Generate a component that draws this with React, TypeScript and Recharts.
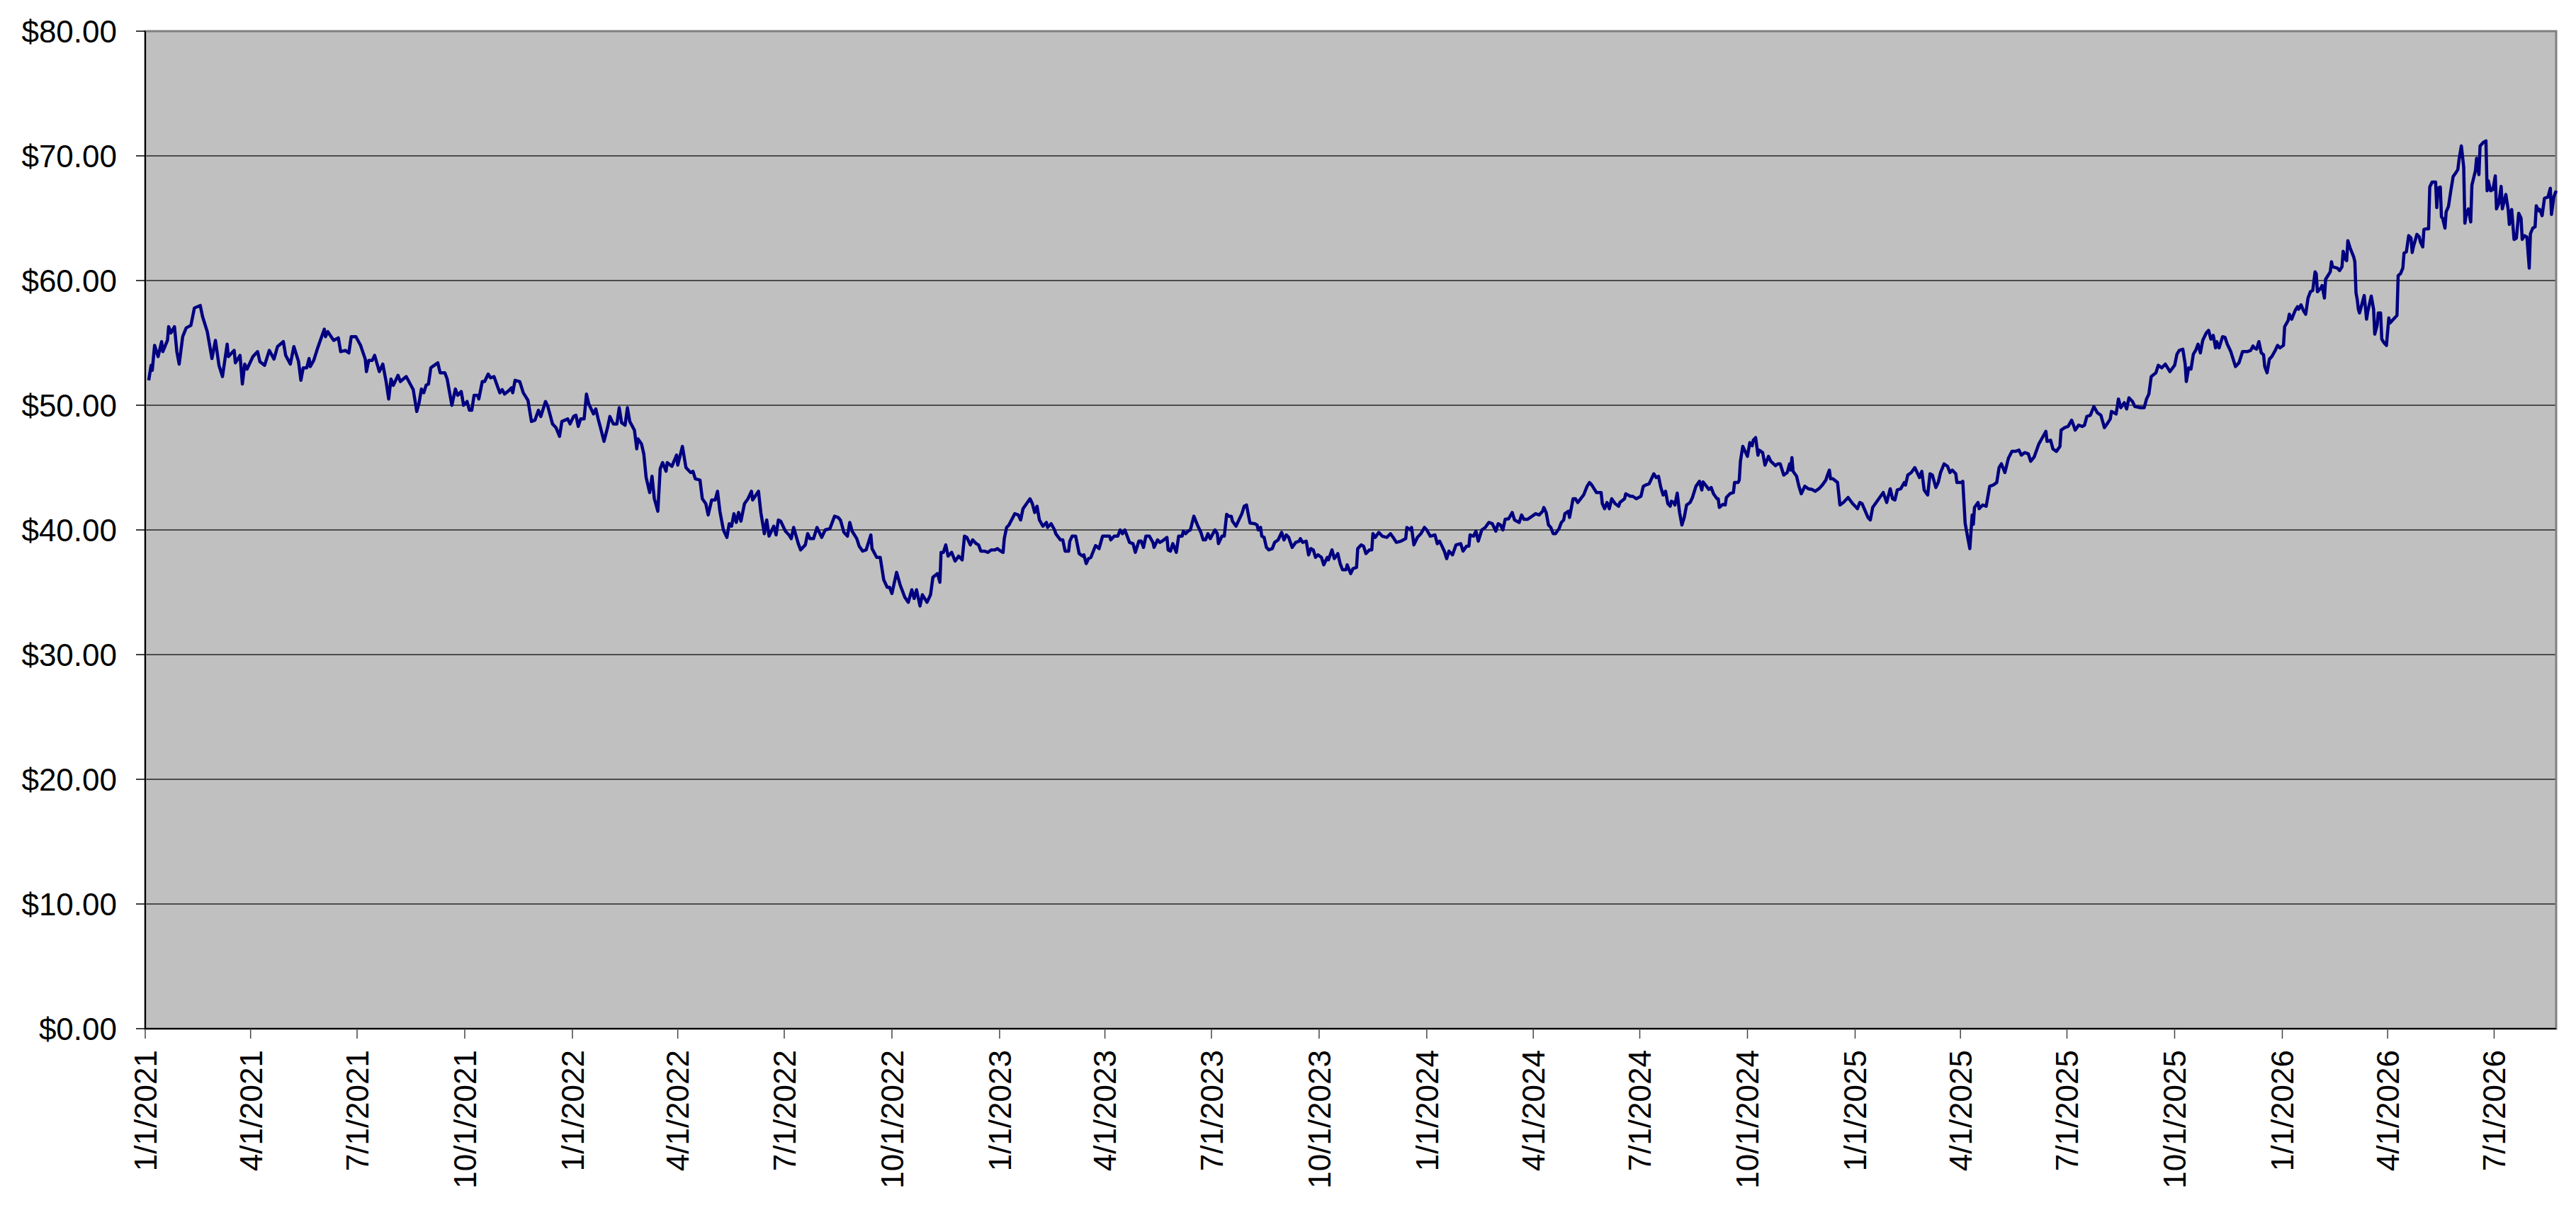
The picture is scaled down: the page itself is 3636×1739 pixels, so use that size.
import React from "react";
import {
  LineChart,
  Line,
  XAxis,
  YAxis,
  CartesianGrid,
  ReferenceArea,
} from "recharts";

// x values are days since 1/1/2021, y values are closing prices in dollars
const SEG_2021: [number, number][] = [
  [3, 52.0], [5, 53.2], [6, 52.8], [8, 54.8], [11, 53.9], [14, 55.1], [15, 54.3], [19, 55.2], [20, 56.3],
  [22, 55.8], [25, 56.3], [27, 54.3], [29, 53.3], [32, 55.5], [35, 56.2], [39, 56.4], [42, 57.8], [47, 58.0],
  [49, 57.1], [53, 55.9], [57, 53.75], [60, 55.2], [63, 53.2], [66, 52.3], [70, 54.9], [71, 53.9], [76, 54.4],
  [77, 53.4], [81, 54.0], [83, 51.7], [85, 53.3], [87, 52.9], [92, 53.9], [96, 54.3], [98, 53.5], [102, 53.2],
  [106, 54.4], [110, 53.7], [113, 54.7], [118, 55.1], [120, 54.0], [124, 53.3], [127, 54.7], [131, 53.5],
  [133, 52.0], [135, 53.0], [138, 53.0], [140, 53.75], [141, 53.1], [144, 53.6], [147, 54.5], [153, 56.1],
  [154, 55.5], [156, 55.9], [161, 55.2], [165, 55.4], [167, 54.3], [171, 54.4], [174, 54.2], [176, 55.5],
  [180, 55.5], [184, 54.8], [188, 53.7], [189, 52.7], [191, 53.6], [194, 53.6], [196, 54.0], [200, 52.7],
  [203, 53.3], [206, 51.8], [208, 50.5], [210, 52.1], [212, 51.6], [216, 52.4], [218, 51.9], [223, 52.3],
  [229, 51.25], [232, 49.5], [234, 50.2], [236, 51.3], [238, 51.0], [240, 51.6], [242, 51.7], [244, 53.0],
  [250, 53.4], [252, 52.6], [256, 52.6], [258, 52.1], [262, 50.0], [265, 51.3], [267, 50.8], [270, 51.1],
  [272, 50.0], [275, 50.3], [277, 49.6], [279, 49.6], [281, 50.8], [284, 50.8], [285, 50.5], [288, 51.9],
  [290, 51.9], [293, 52.5], [295, 52.2], [298, 52.3], [301, 51.5], [303, 51.0], [305, 51.25], [307, 50.9],
  [311, 51.2], [313, 51.4], [314, 51.0], [316, 52.0], [320, 51.9], [323, 51.0], [327, 50.4], [330, 48.7],
  [333, 48.8], [336, 49.6], [338, 49.1], [342, 50.3], [344, 49.9], [348, 48.5], [351, 48.2], [354, 47.5],
  [356, 48.7], [361, 48.9], [363, 48.5], [366, 49.1], [368, 49.2], [370, 48.3],
];

const SEG_2022: [number, number][] = [
  [372, 48.9], [375, 48.9], [377, 50.9], [379, 50.1], [383, 49.3], [385, 49.7], [387, 48.9], [389, 48.2],
  [392, 47.1], [395, 48.2], [397, 49.1], [400, 48.5], [403, 48.5], [405, 49.8], [407, 48.6], [410, 48.4],
  [412, 49.8], [414, 48.7], [418, 48.0], [420, 46.5], [421, 47.3], [424, 46.9], [426, 46.1], [428, 44.2],
  [431, 43.0], [433, 44.3], [435, 42.5], [438, 41.5], [440, 44.9], [442, 45.4], [445, 44.7], [446, 45.4],
  [450, 45.1], [454, 46.0], [455, 45.2], [459, 46.7], [462, 45.0], [466, 44.6], [468, 44.7], [470, 44.1],
  [474, 44.0], [476, 42.5], [479, 42.1], [481, 41.2], [484, 42.4], [487, 42.4], [489, 43.1], [491, 41.5],
  [494, 40.0], [497, 39.4], [499, 40.5], [501, 40.3], [503, 41.3], [505, 40.6], [507, 41.4], [509, 40.7],
  [512, 42.1], [515, 42.5], [518, 43.1], [519, 42.4], [524, 43.1], [526, 41.4], [529, 39.7], [531, 40.8],
  [533, 39.5], [537, 40.3], [539, 39.6], [541, 40.8], [543, 40.7], [547, 39.9], [550, 39.6], [552, 39.3],
  [554, 40.2], [558, 38.9], [560, 38.4], [564, 38.8], [566, 39.7], [568, 39.3], [571, 39.3], [574, 40.2],
  [578, 39.4], [581, 40.0], [585, 40.1], [589, 41.1], [592, 41.0], [594, 40.8], [597, 39.8], [600, 39.5],
  [602, 40.6], [604, 39.9], [608, 39.3], [610, 38.7], [613, 38.3], [616, 38.4], [620, 39.6], [621, 38.5],
  [625, 37.8], [628, 37.8], [631, 36.0], [634, 35.4], [636, 35.4], [638, 34.9], [642, 36.6], [645, 35.6],
  [649, 34.6], [652, 34.2], [655, 35.2], [657, 34.5], [659, 35.2], [662, 33.9], [664, 34.8], [668, 34.2],
  [671, 34.8], [673, 36.2], [677, 36.5], [679, 35.8], [680, 38.2], [682, 38.2], [684, 38.8], [686, 37.9],
  [689, 38.2], [692, 37.5], [695, 37.9], [698, 37.6], [700, 39.5], [702, 39.4], [705, 38.8], [707, 39.2],
  [710, 38.9], [712, 38.8], [714, 38.3], [717, 38.3], [720, 38.2], [723, 38.4], [726, 38.4], [728, 38.5],
];

const SEG_2023: [number, number][] = [
  [731, 38.3], [733, 38.2], [734, 39.3], [736, 40.2], [738, 40.4], [743, 41.3], [746, 41.2], [748, 40.8],
  [750, 41.7], [753, 42.1], [756, 42.5], [758, 42.1], [760, 41.4], [762, 41.9], [764, 40.8], [767, 40.3],
  [770, 40.6], [771, 40.2], [774, 40.5], [777, 40.0], [778, 39.7], [782, 39.2], [784, 39.2], [786, 38.3],
  [789, 38.3], [790, 39.1], [792, 39.5], [795, 39.5], [798, 38.1], [801, 37.9], [802, 38.0], [804, 37.3],
  [806, 37.7], [808, 37.8], [812, 38.75], [815, 38.5], [818, 39.5], [820, 39.5], [824, 39.5], [825, 39.2],
  [828, 39.5], [831, 39.5], [833, 40.0], [835, 39.7], [837, 40.0], [839, 39.5], [841, 39.0], [844, 38.9],
  [846, 38.2], [849, 39.1], [851, 39.1], [853, 38.6], [855, 39.5], [858, 39.5], [861, 39.0], [862, 38.6],
  [865, 39.2], [867, 39.0], [869, 39.1], [873, 39.4], [874, 38.4], [876, 38.3], [878, 38.9], [881, 38.2],
  [883, 39.5], [886, 39.5], [887, 39.9], [889, 39.7], [891, 39.9], [893, 40.0], [896, 41.1], [899, 40.4],
  [902, 39.8], [904, 39.2], [906, 39.2], [908, 39.7], [910, 39.3], [914, 40.0], [916, 39.7], [917, 38.9],
  [920, 39.5], [922, 39.5], [924, 41.25], [926, 41.1], [928, 41.1], [929, 40.7], [932, 40.3], [935, 40.9],
  [937, 41.3], [939, 41.9], [941, 42.0], [943, 41.0], [944, 40.55], [948, 40.5], [950, 40.4], [951, 40.0],
  [953, 40.2], [954, 39.5], [956, 39.4], [958, 38.6], [960, 38.4], [963, 38.5], [965, 39.0], [968, 39.2],
  [971, 39.8], [973, 39.2], [975, 39.6], [977, 39.4], [980, 38.6], [983, 39.0], [986, 39.1], [987, 39.3],
  [989, 39.0], [992, 39.1], [994, 38.0], [996, 38.5], [998, 38.4], [1000, 37.8], [1002, 38.0], [1005, 37.8],
  [1007, 37.2], [1010, 37.8], [1011, 37.6], [1014, 38.4], [1016, 37.7], [1019, 38.1], [1021, 37.3],
  [1023, 36.8], [1026, 36.8], [1027, 37.2], [1030, 36.5], [1032, 36.9], [1035, 37.0], [1036, 38.5],
  [1039, 38.8], [1041, 38.7], [1043, 38.1], [1046, 38.4], [1048, 38.4], [1049, 39.7], [1051, 39.4],
  [1054, 39.8], [1057, 39.5], [1061, 39.4], [1064, 39.7], [1067, 39.3], [1069, 39.0], [1073, 39.1],
  [1077, 39.3], [1078, 40.2], [1081, 40.0], [1082, 40.2], [1084, 38.8], [1087, 39.4], [1090, 39.7],
  [1093, 40.2], [1095, 40.0], [1098, 39.5],
];

const SEG_2024: [number, number][] = [
  [1102, 39.6], [1104, 38.9], [1106, 39.1], [1110, 38.3], [1112, 37.7], [1114, 38.3], [1117, 38.0],
  [1120, 38.8], [1124, 38.9], [1126, 38.3], [1129, 38.7], [1131, 38.7], [1132, 39.6], [1135, 39.5],
  [1137, 39.9], [1139, 39.1], [1142, 40.0], [1145, 40.2], [1148, 40.6], [1151, 40.5], [1154, 39.9],
  [1156, 40.5], [1158, 40.4], [1160, 40.0], [1162, 40.85], [1165, 40.9], [1168, 41.4], [1170, 40.8],
  [1174, 40.6], [1176, 41.2], [1178, 40.85], [1181, 40.85], [1185, 41.1], [1188, 41.3], [1191, 41.2],
  [1194, 41.5], [1195, 41.8], [1197, 41.4], [1199, 40.4], [1201, 40.2], [1203, 39.7], [1205, 39.7],
  [1208, 40.1], [1210, 40.6], [1212, 40.8], [1213, 41.3], [1216, 41.5], [1217, 41.0], [1220, 42.5],
  [1222, 42.5], [1224, 42.2], [1229, 42.8], [1232, 43.5], [1234, 43.8], [1236, 43.6], [1240, 43.0],
  [1244, 43.0], [1245, 42.1], [1247, 41.7], [1249, 42.2], [1251, 41.7], [1253, 42.5], [1256, 42.1],
  [1259, 41.9], [1260, 42.2], [1264, 42.5], [1265, 42.9], [1269, 42.7], [1271, 42.7], [1274, 42.5],
  [1278, 42.7], [1280, 43.5], [1282, 43.6], [1285, 43.7], [1288, 44.3], [1289, 44.5], [1291, 44.2],
  [1293, 44.3], [1295, 43.4], [1297, 42.8], [1299, 43.1], [1301, 42.1], [1303, 41.9], [1304, 42.3],
  [1306, 42.2], [1307, 42.0], [1309, 42.95], [1311, 41.4], [1313, 40.4], [1315, 41.0], [1317, 42.0],
  [1320, 42.2], [1322, 42.6], [1325, 43.5], [1328, 43.9], [1330, 43.2], [1331, 43.85], [1334, 43.5],
  [1336, 43.25], [1338, 43.4], [1340, 42.9], [1343, 42.5], [1344, 42.5], [1345, 41.8], [1348, 42.05],
  [1350, 42.0], [1351, 42.6], [1354, 42.9], [1357, 43.0], [1358, 43.8], [1361, 43.8], [1362, 44.0],
  [1363, 45.5], [1365, 46.7], [1367, 46.3], [1369, 45.9], [1371, 47.0], [1373, 46.75], [1374, 47.2],
  [1376, 47.4], [1378, 46.0], [1379, 46.4], [1382, 46.2], [1384, 45.2], [1387, 45.9], [1389, 45.5],
  [1393, 45.15], [1395, 45.3], [1397, 45.3], [1400, 44.4], [1403, 44.6], [1405, 45.3], [1406, 44.8],
  [1407, 45.8], [1408, 44.7], [1411, 44.3], [1413, 43.5], [1415, 42.9], [1418, 43.5], [1421, 43.3],
  [1424, 43.25], [1427, 43.1], [1430, 43.3], [1433, 43.6], [1436, 44.0], [1437, 44.3], [1439, 44.8],
  [1440, 44.1], [1442, 44.1], [1446, 43.8], [1448, 42.0], [1451, 42.2], [1455, 42.6], [1459, 42.1],
  [1463, 41.7], [1465, 42.2], [1467, 42.1],
];

const SEG_2025: [number, number][] = [
  [1472, 41.0], [1474, 40.8], [1476, 41.8], [1479, 42.2], [1482, 42.6], [1485, 43.0], [1488, 42.2],
  [1491, 43.3], [1493, 42.5], [1495, 42.4], [1497, 43.2], [1500, 43.3], [1503, 43.8], [1504, 43.6],
  [1506, 44.4], [1509, 44.6], [1512, 45.0], [1516, 44.2], [1518, 44.7], [1520, 43.2], [1523, 42.8],
  [1525, 44.5], [1527, 44.4], [1530, 43.4], [1532, 43.8], [1534, 44.6], [1537, 45.3], [1540, 45.1],
  [1542, 44.6], [1544, 44.8], [1547, 44.5], [1548, 43.8], [1552, 43.8], [1553, 43.9], [1555, 40.55],
  [1557, 39.5], [1559, 38.5], [1561, 41.2], [1562, 40.45], [1563, 41.8], [1566, 42.2], [1567, 41.7],
  [1570, 42.0], [1573, 41.9], [1576, 43.5], [1579, 43.6], [1582, 43.8], [1584, 45.0], [1586, 45.3],
  [1589, 44.6], [1592, 45.75], [1595, 46.3], [1598, 46.3], [1601, 46.4], [1603, 46.0], [1606, 46.2],
  [1609, 46.1], [1611, 45.5], [1614, 45.85], [1618, 46.9], [1621, 47.4], [1624, 47.9], [1625, 47.1],
  [1628, 47.2], [1630, 46.5], [1633, 46.3], [1636, 46.7], [1637, 48.0], [1640, 48.2], [1643, 48.3],
  [1646, 48.8], [1648, 48.3], [1649, 48.0], [1652, 48.4], [1655, 48.3], [1657, 48.4], [1659, 49.1],
  [1662, 49.2], [1665, 49.9], [1668, 49.4], [1671, 49.2], [1674, 48.2], [1677, 48.6], [1679, 48.9],
  [1680, 49.5], [1684, 49.3], [1686, 50.5], [1688, 49.8], [1691, 50.2], [1693, 49.7], [1695, 50.6],
  [1698, 50.3], [1700, 49.9], [1705, 49.8], [1708, 49.8], [1710, 50.5], [1712, 50.9], [1714, 52.3],
  [1718, 52.6], [1720, 53.2], [1723, 53.0], [1726, 53.3], [1730, 52.7], [1734, 53.2], [1736, 54.1],
  [1738, 54.4], [1741, 54.5], [1743, 53.3], [1744, 51.9], [1746, 53.0], [1748, 52.9], [1750, 54.1],
  [1752, 54.4], [1754, 54.9], [1756, 54.2], [1758, 55.2], [1761, 55.8], [1763, 56.0], [1765, 55.3],
  [1767, 55.6], [1769, 54.6], [1770, 55.1], [1772, 54.6], [1775, 55.5], [1777, 55.45], [1779, 54.9],
  [1782, 54.3], [1784, 53.7], [1786, 53.1], [1789, 53.4], [1792, 54.3], [1796, 54.3], [1799, 54.4],
  [1801, 54.75], [1802, 54.6], [1804, 54.5], [1806, 55.1], [1808, 54.2], [1810, 54.05], [1811, 53.1],
  [1813, 52.6], [1815, 53.7], [1817, 53.9], [1820, 54.4], [1822, 54.8], [1824, 54.6], [1827, 54.8],
  [1828, 56.3], [1831, 56.8], [1832, 57.3], [1834, 56.9],
];

const SEG_2026: [number, number][] = [
  [1837, 57.6], [1839, 57.9], [1840, 57.7], [1842, 58.05], [1844, 57.6], [1846, 57.3], [1848, 58.6],
  [1850, 59.1], [1852, 59.2], [1854, 60.7], [1855, 60.55], [1856, 59.1], [1859, 59.4], [1860, 59.6],
  [1862, 58.6], [1863, 60.1], [1865, 60.4], [1867, 60.7], [1868, 61.5], [1869, 61.1], [1873, 61.0],
  [1875, 60.8], [1877, 61.1], [1878, 62.35], [1880, 61.7], [1881, 61.6], [1882, 63.2], [1884, 62.6],
  [1887, 61.9], [1888, 61.5], [1889, 59.0], [1890, 58.5], [1891, 57.7], [1892, 57.4], [1894, 58.1],
  [1896, 58.8], [1898, 56.9], [1899, 57.5], [1902, 58.75], [1904, 57.7], [1905, 55.7], [1907, 56.4],
  [1908, 57.4], [1910, 57.4], [1911, 55.3], [1913, 55.0], [1915, 54.8], [1917, 57.0], [1918, 56.6],
  [1921, 56.9], [1924, 57.2], [1925, 60.4], [1927, 60.55], [1929, 61.0], [1930, 62.2], [1932, 62.3],
  [1934, 63.6], [1936, 63.4], [1937, 62.25], [1938, 62.7], [1941, 63.7], [1943, 63.5], [1944, 63.1],
  [1946, 62.7], [1947, 64.1], [1949, 64.15], [1951, 64.15], [1952, 67.5], [1954, 67.9], [1957, 67.9],
  [1958, 65.85], [1959, 67.4], [1961, 67.5], [1962, 65.1], [1963, 65.0], [1965, 64.2], [1966, 65.5],
  [1968, 65.95], [1970, 67.2], [1972, 68.35], [1974, 68.6], [1976, 68.9], [1977, 69.7], [1979, 70.8],
  [1981, 69.1], [1982, 64.6], [1983, 65.2], [1985, 65.75], [1987, 64.7], [1988, 67.65], [1991, 68.8],
  [1992, 69.8], [1994, 68.5], [1995, 70.8], [1998, 71.1], [2000, 71.2], [2001, 67.2], [2002, 68.0],
  [2004, 67.2], [2006, 67.3], [2008, 68.4], [2009, 65.75], [2011, 66.2], [2013, 67.55], [2014, 65.75],
  [2017, 66.9], [2019, 65.7], [2020, 64.5], [2022, 65.7], [2024, 63.3], [2026, 63.4], [2028, 65.4],
  [2030, 65.0], [2031, 63.3], [2033, 63.6], [2035, 63.5], [2037, 61.0], [2038, 63.75], [2040, 64.2],
  [2042, 64.3], [2043, 66.0], [2045, 65.6], [2046, 65.7], [2048, 65.2], [2050, 66.6], [2053, 66.7],
  [2055, 67.4], [2056, 65.3], [2058, 66.7], [2060, 67.2],
];

const TICK_DAYS = [
  0, 90, 181, 273, 365, 455, 546, 638, 730, 820, 911, 1003, 1095, 1186, 1277, 1369, 1461, 1551, 1642, 1734,
  1826, 1916, 2007,
];
const TICK_LABELS = [
  "1/1/2021", "4/1/2021", "7/1/2021", "10/1/2021", "1/1/2022", "4/1/2022", "7/1/2022", "10/1/2022",
  "1/1/2023", "4/1/2023", "7/1/2023", "10/1/2023", "1/1/2024", "4/1/2024", "7/1/2024", "10/1/2024",
  "1/1/2025", "4/1/2025", "7/1/2025", "10/1/2025", "1/1/2026", "4/1/2026", "7/1/2026",
];
const PRICE_TICKS = [0, 10, 20, 30, 40, 50, 60, 70, 80];
const LAST_DAY = 2060;

const data = [...SEG_2021, ...SEG_2022, ...SEG_2023, ...SEG_2024, ...SEG_2025, ...SEG_2026].map(
  ([day, price]) => ({ day, price })
);

const FONT = "'Liberation Sans', Arial, sans-serif";

function DateTick(props: any) {
  const { x, y, payload } = props;
  const idx = TICK_DAYS.indexOf(payload.value);
  const ty = y + 16;
  return (
    <text
      x={x}
      y={ty}
      dy="0.36em"
      transform={`rotate(-90 ${x} ${ty})`}
      textAnchor="end"
      fontSize={44}
      fontFamily={FONT}
      fill="#000"
    >
      {TICK_LABELS[idx] ?? ""}
    </text>
  );
}

export default function App() {
  return (
    <div style={{ width: 3620, height: 1723, background: "#fff" }}>
      <LineChart
        width={3620}
        height={1723}
        data={data}
        margin={{ top: 36, right: 20, left: 0, bottom: 0 }}
      >
        <CartesianGrid
          vertical={false}
          stroke="#262626"
          strokeWidth={1.3}
          fill="#C0C0C0"
          fillOpacity={1}
        />
        <XAxis
          type="number"
          dataKey="day"
          domain={[0, LAST_DAY]}
          ticks={TICK_DAYS}
          interval={0}
          height={279}
          tickSize={14}
          tickMargin={0}
          tick={<DateTick />}
          axisLine={{ stroke: "#000", strokeWidth: 2 }}
          tickLine={{ stroke: "#444", strokeWidth: 1.5 }}
        />
        <YAxis
          type="number"
          domain={[0, 80]}
          ticks={PRICE_TICKS}
          interval={0}
          width={197}
          tickSize={13}
          tickMargin={27}
          tickFormatter={(v: number) => `$${v.toFixed(2)}`}
          tick={{ fontSize: 44, fill: "#000", fontFamily: FONT }}
          axisLine={{ stroke: "#000", strokeWidth: 2 }}
          tickLine={{ stroke: "#000", strokeWidth: 1.5 }}
        />
        <ReferenceArea
          x1={0}
          x2={LAST_DAY}
          y1={0}
          y2={80}
          fill="none"
          fillOpacity={0}
          stroke="#808080"
          strokeWidth={3}
        />
        <Line
          type="linear"
          dataKey="price"
          stroke="#000080"
          strokeWidth={4.5}
          strokeLinejoin="round"
          dot={false}
          activeDot={false}
          isAnimationActive={false}
        />
      </LineChart>
    </div>
  );
}
